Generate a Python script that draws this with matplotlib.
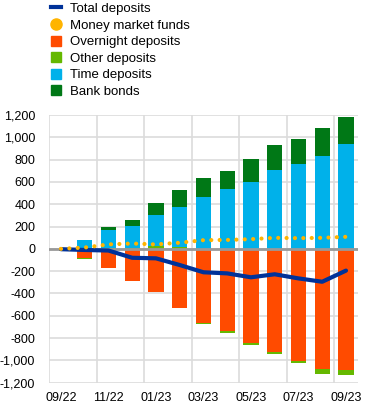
import numpy as np
import matplotlib.pyplot as plt
from matplotlib.lines import Line2D

plt.rcParams['font.family'] = ['Liberation Sans', 'DejaVu Sans']

# data (EUR bn, changes since 09/22)
months = ['09/22', '10/22', '11/22', '12/22', '01/23', '02/23', '03/23',
          '04/23', '05/23', '06/23', '07/23', '08/23', '09/23']
overnight = [0, -85, -176, -287, -385, -528, -666, -737, -842, -922, -1006, -1075, -1084]
other_dep = [0, -5, 10, 12, 25, 15, -12, -20, -18, -20, -18, -47, -47]
time_dep = [0, 75, 160, 192, 277, 362, 464, 536, 599, 710, 760, 832, 937]
bank_bonds = [0, -5, 30, 59, 108, 147, 171, 164, 203, 221, 228, 252, 249]
total_dep = [-3, -10, -15, -80, -85, -145, -210, -220, -255, -228, -265, -295, -195]
mmf = [0, 12, 40, 48, 40, 55, 78, 80, 87, 99, 96, 99, 108]

series = [('Overnight deposits', overnight, '#FF4B00'),
          ('Other deposits', other_dep, '#65B800'),
          ('Time deposits', time_dep, '#00B1EA'),
          ('Bank bonds', bank_bonds, '#007816')]

fig = plt.figure(figsize=(3.72, 4.11), dpi=100)
ax = fig.add_axes([0.132, 0.069, 0.83, 0.651])

x = np.arange(len(months))
pos_bot = np.zeros(len(months))
neg_bot = np.zeros(len(months))
for name, vals, col in series:
    v = np.array(vals, dtype=float)
    bot = np.where(v >= 0, pos_bot, neg_bot)
    ax.bar(x, v, 0.64, bottom=bot, color=col, zorder=3, linewidth=0)
    pos_bot += np.where(v >= 0, v, 0)
    neg_bot += np.where(v < 0, v, 0)

ax.axhline(0, color='#999999', lw=2, zorder=4)
ax.plot(x, total_dep, color='#003299', lw=3, zorder=5, solid_capstyle='round')
ax.plot(x, mmf, color='#FFB400', lw=3, ls=(0, (0.01, 2)), dash_capstyle='round', zorder=6)

ax.set_xlim(-0.5, 12.5)
ax.set_ylim(-1200, 1200)
ax.set_yticks(np.arange(-1200, 1201, 200))
ax.set_yticklabels([f'{v:,}' for v in range(-1200, 1201, 200)])
ax.set_xticks(x[::2])
ax.set_xticklabels(months[::2])
ax.set_xticks(np.arange(-0.5, 12, 2), minor=True)
ax.grid(axis='y', color='#dcdcdc', lw=1.2, zorder=0)
ax.grid(axis='x', which='minor', color='#dcdcdc', lw=1.2, zorder=0)
ax.tick_params(axis='both', which='both', length=0, labelsize=9, colors='#000000')
ax.tick_params(axis='y', pad=10)
ax.tick_params(axis='x', pad=7)
for s in ax.spines.values():
    s.set_visible(False)

handles = [Line2D([], [], color='#003299', lw=3),
           Line2D([], [], ls='', marker='o', ms=8, color='#FFB400'),
           Line2D([], [], ls='', marker='s', ms=7, color='#FF4B00'),
           Line2D([], [], ls='', marker='s', ms=7, color='#65B800'),
           Line2D([], [], ls='', marker='s', ms=7, color='#00B1EA'),
           Line2D([], [], ls='', marker='s', ms=7, color='#007816')]
labels = ['Total deposits', 'Money market funds', 'Overnight deposits',
          'Other deposits', 'Time deposits', 'Bank bonds']
fig.legend(handles, labels, loc='upper left', bbox_to_anchor=(0.122, 1.006),
           frameon=False, fontsize=9.5, handlelength=0.8, handletextpad=0.7,
           labelspacing=0.33, borderaxespad=0)

fig.savefig('out.png', dpi=100)
